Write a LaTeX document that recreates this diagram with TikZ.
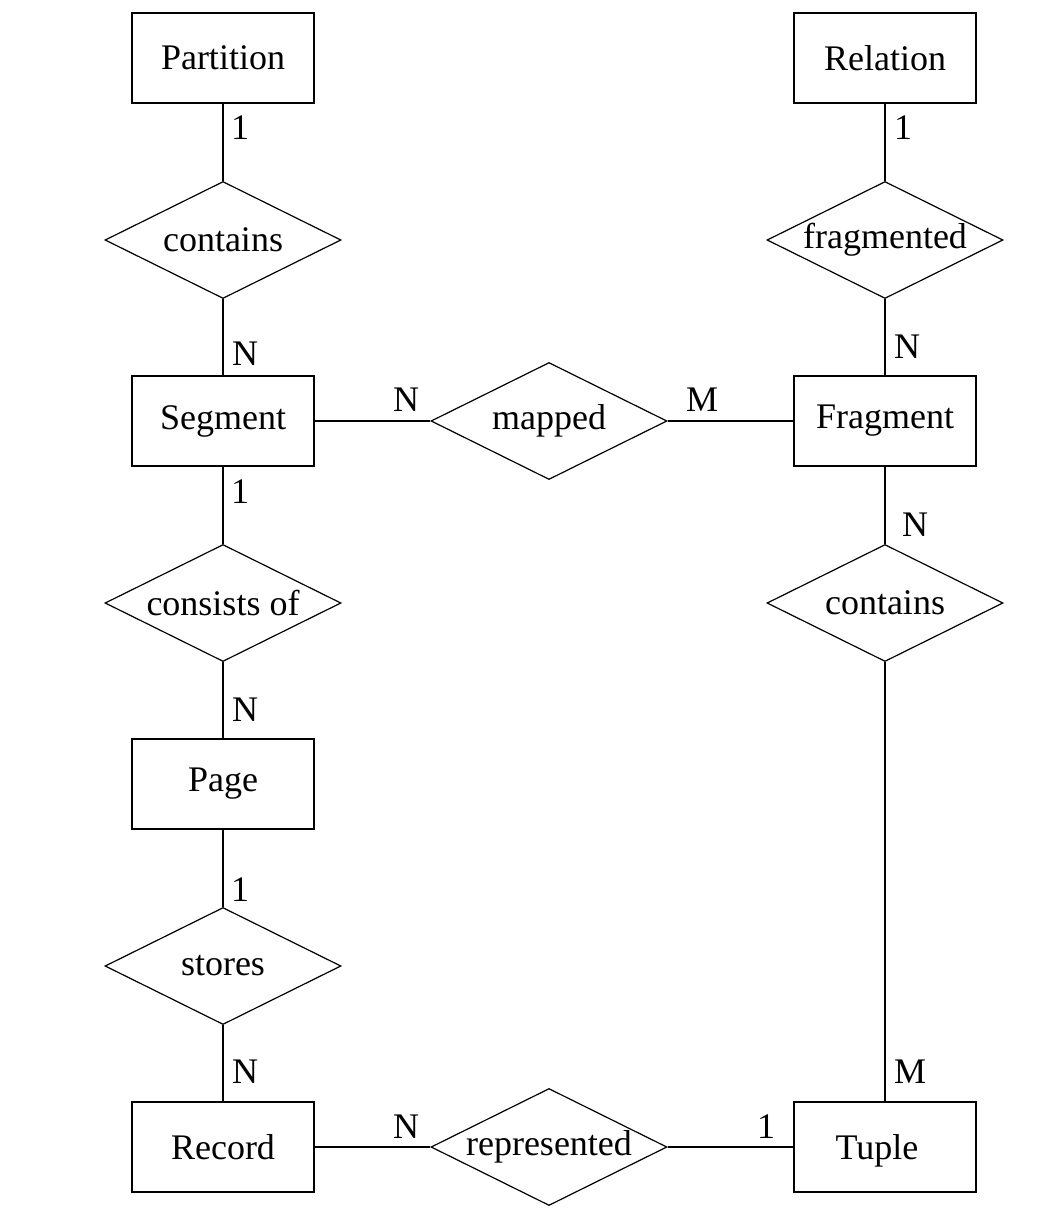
\documentclass[tikz,border=0pt]{standalone}
\usepackage{fontspec}
\setmainfont{Liberation Serif}
\usetikzlibrary{shapes.geometric}
\begin{document}
\begin{tikzpicture}[x=1pt,y=-1pt,
  every node/.style={font=\fontsize{36}{42}\selectfont},
  entity/.style={draw,line width=1.2pt,rectangle,minimum width=182pt,minimum height=90pt,inner sep=0pt},
  rel/.style={draw,line width=1.2pt,diamond,minimum width=236pt,minimum height=117pt,inner sep=0pt},
  rtext/.style={inner sep=0pt},
  card/.style={inner sep=0pt},
  conn/.style={line width=1.2pt}]
\useasboundingbox (0,0) rectangle (1042,1213);
% entities
\node[entity] (partition) at (223,58) {Partition};
\node[entity] (relation) at (885,58) {Relation};
\node[entity] (segment) at (223,421) {Segment};
\node[entity] (fragment) at (885,421) {Fragment};
\node[entity] (page) at (223,784) {Page};
\node[entity] (record) at (223,1147) {Record};
\node[entity] (tuple) at (885,1147) {};
\node[rtext] at ([xshift=-8pt,yshift=-4pt]tuple.center) {Tuple};
% relationships
\node[rel] (contains1) at (223,240) {};
\node[rtext] at (contains1) {contains};
\node[rel] (fragmented) at (885,240) {};
\node[rtext] at (fragmented) {fragmented};
\node[rel] (mapped) at (549,421) {};
\node[rtext] at (mapped) {mapped};
\node[rel] (consists) at (223,603) {};
\node[rtext] at (consists) {consists of};
\node[rel] (contains2) at (885,603) {};
\node[rtext] at (contains2) {contains};
\node[rel] (stores) at (223,966) {};
\node[rtext] at (stores) {stores};
\node[rel] (represented) at (549,1147) {};
\node[rtext] at (represented) {represented};
% connectors
\draw[conn] (partition.south) -- (contains1.north);
\draw[conn] (contains1.south) -- (segment.north);
\draw[conn] (relation.south) -- (fragmented.north);
\draw[conn] (fragmented.south) -- (fragment.north);
\draw[conn] (segment.east) -- (mapped.west);
\draw[conn] (mapped.east) -- (fragment.west);
\draw[conn] (segment.south) -- (consists.north);
\draw[conn] (consists.south) -- (page.north);
\draw[conn] (fragment.south) -- (contains2.north);
\draw[conn] (contains2.south) -- (tuple.north);
\draw[conn] (page.south) -- (stores.north);
\draw[conn] (stores.south) -- (record.north);
\draw[conn] (record.east) -- (represented.west);
\draw[conn] (represented.east) -- (tuple.west);
% cardinalities
\node[card] at (240,128) {1};
\node[card] at (245,354) {N};
\node[card] at (903,128) {1};
\node[card] at (907,347) {N};
\node[card] at (406,400) {N};
\node[card] at (702,400) {M};
\node[card] at (240,492) {1};
\node[card] at (245,710) {N};
\node[card] at (915,525) {N};
\node[card] at (910,1072) {M};
\node[card] at (240,890) {1};
\node[card] at (245,1072) {N};
\node[card] at (406,1127) {N};
\node[card] at (766,1127) {1};
\end{tikzpicture}
\end{document}
